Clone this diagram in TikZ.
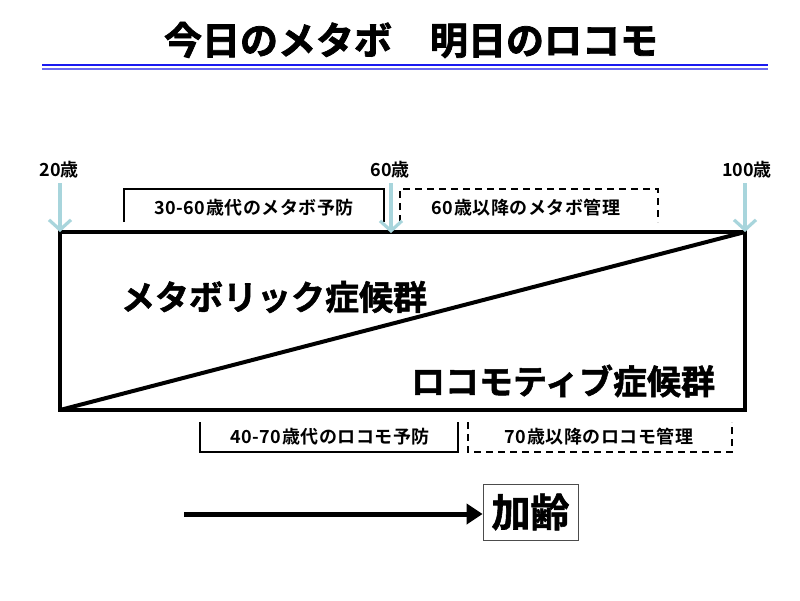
\documentclass[tikz,border=0pt]{standalone}
\usepackage{fontspec}
\newfontfamily\jp{Noto Sans CJK JP}[BoldFont={Noto Sans CJK JP Bold}]
\usetikzlibrary{arrows.meta}
\definecolor{agearrow}{HTML}{A8D5DC}
\definecolor{titleblue}{HTML}{1A1AF0}
\definecolor{titleblue2}{HTML}{6A6AF0}
\tikzset{
  agelabel/.style={font=\jp\bfseries\fontsize{18}{20}\selectfont, inner sep=0},
  agearr/.style={agearrow, line width=3.2, -{Straight Barb[length=10, width=22, line width=3.2]}},
  bracketline/.style={line width=1.6},
  dashbracket/.style={line width=1.6, dash pattern=on 7pt off 5pt},
  brtext/.style={font=\jp\bfseries\fontsize{18}{20}\selectfont\addfontfeatures{LetterSpace=3}, inner sep=0},
  bigtext/.style={font=\jp\bfseries\fontsize{34}{36}\selectfont\addfontfeatures{FakeBold=1.5}, inner sep=0},
}
\begin{document}
\begin{tikzpicture}[x=1pt,y=-1pt]
\useasboundingbox[fill=white] (0,0) rectangle (800,600);
% title
\node[font=\jp\bfseries\fontsize{38}{40}\selectfont\addfontfeatures{FakeBold=2}, inner sep=0] (title) at (411,40) {今日のメタボ　明日のロコモ};
\coordinate (ulA) at (42,65); \coordinate (ulB) at (768,65);
\coordinate (ulC) at (42,69); \coordinate (ulD) at (768,69);
\draw[titleblue, line width=2.8] (ulA) -- (ulB);
\draw[titleblue2, line width=1.2] (ulC) -- (ulD);
% ages
\node[agelabel] (a20) at (59,170) {20歳};
\node[agelabel] (a60) at (390,170) {60歳};
\node[agelabel] (a100) at (747,170) {100歳};
\coordinate (tl) at (60,232);
\coordinate (br) at (745,410);
\coordinate (bl) at (60,410);
\coordinate (tr) at (745,232);
\coordinate (a20s) at (60,183);
\coordinate (a60s) at (391,183);
\coordinate (a60e) at (391,233);
\coordinate (a100s) at (745,183);
% brackets top
\coordinate (b1a) at (124,222); \coordinate (b1b) at (124,189);
\coordinate (b1c) at (384,189); \coordinate (b1d) at (384,222);
\draw[bracketline] (b1a) -- (b1b) -- (b1c) -- (b1d);
\node[brtext] (t1) at (254,208) {30-60歳代のメタボ予防};
\coordinate (b2a) at (400,222); \coordinate (b2b) at (400,189);
\coordinate (b2c) at (658,189); \coordinate (b2d) at (658,222);
\draw[dashbracket] (b2a) -- (b2b) -- (b2c) -- (b2d);
\node[brtext] (t2) at (526,208) {60歳以降のメタボ管理};
% main box
\draw[line width=4] (tl) rectangle (br);
\draw[line width=4] (bl) -- (tr);
\draw[agearr] (a20s) -- (tl);
\draw[agearr] (a60s) -- (a60e);
\draw[agearr] (a100s) -- (tr);
\node[bigtext] (meta) at (274,297) {メタボリック症候群};
\node[bigtext] (loco) at (563,381) {ロコモティブ症候群};
% brackets bottom
\coordinate (b3a) at (200,422); \coordinate (b3b) at (200,452);
\coordinate (b3c) at (458,452); \coordinate (b3d) at (458,422);
\draw[bracketline] (b3a) -- (b3b) -- (b3c) -- (b3d);
\node[brtext] (t3) at (330,437) {40-70歳代のロコモ予防};
\coordinate (b4a) at (468,422); \coordinate (b4b) at (468,452);
\coordinate (b4c) at (732,452); \coordinate (b4d) at (732,422);
\draw[dashbracket] (b4a) -- (b4b) -- (b4c) -- (b4d);
\node[brtext] (t4) at (599,437) {70歳以降のロコモ管理};
% aging arrow
\node[draw=black!70, line width=0.8, minimum width=95, minimum height=56, inner sep=0,
      font=\jp\bfseries\fontsize{39}{41}\selectfont\addfontfeatures{FakeBold=1.5}] (aging) at (530.5,512) {加齢};
\coordinate (arrs) at (184,514);
\draw[line width=5, -{Triangle[length=16, width=20]}] (arrs) -- (aging.west |- arrs);
\end{tikzpicture}
\end{document}
